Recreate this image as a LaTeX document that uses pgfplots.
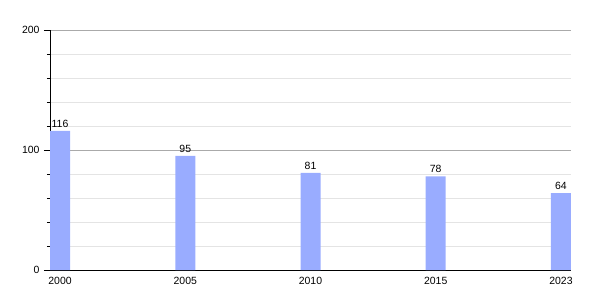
\documentclass[border=0pt]{standalone}
\usepackage{fontspec}
\setmainfont{Liberation Sans}
\usepackage{pgfplots}
\pgfplotsset{compat=1.18}
\definecolor{barblue}{RGB}{153,172,255}
\definecolor{majgrid}{RGB}{170,170,170}
\definecolor{mingrid}{RGB}{228,228,228}
\begin{document}
\begin{tikzpicture}
\begin{axis}[
  name=ax,
  scale only axis,
  width=521bp, height=240bp,
  xmin=-0.08, xmax=4.08,
  ymin=0, ymax=200,
  axis x line*=bottom,
  axis y line*=left,
  axis line style={black, line width=0.8pt, -},
  xtick={0,1,2,3,4},
  xticklabels={2000,2005,2010,2015,2023},
  x tick style={draw=none},
  xticklabel style={yshift=2pt},
  ytick={0,100,200},
  minor y tick num=4,
  tick align=outside,
  major tick length=6bp,
  minor tick length=3bp,
  y tick style={black, line width=0.6pt},
  ymajorgrids, yminorgrids,
  major grid style={majgrid, line width=0.6pt},
  minor grid style={mingrid, line width=0.6pt},
  ticklabel style={font=\fontsize{10.5}{12}\selectfont},
  yticklabel style={xshift=-1pt},
  /pgf/number format/assume math mode=true,
  ybar, bar width=20bp, bar shift=0pt,
  nodes near coords,
  nodes near coords style={font=\fontsize{10.5}{12}\selectfont, black, yshift=0pt},
  clip=false,
]
\addplot[fill=barblue, draw=none] coordinates {(0,116) (1,95) (2,81) (3,78) (4,64)};
\end{axis}
\pgfresetboundingbox
\path ([xshift=-50bp,yshift=-30bp]ax.south west) rectangle ([xshift=29bp,yshift=30bp]ax.north east);
\end{tikzpicture}
\end{document}
